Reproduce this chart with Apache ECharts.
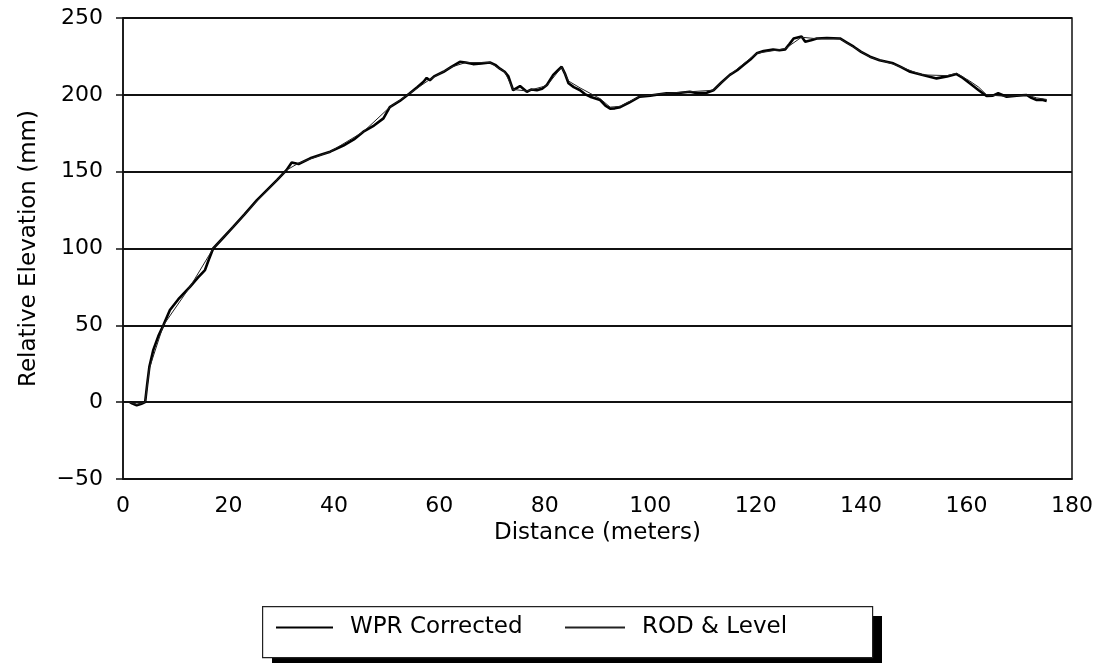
<!DOCTYPE html>
<html>
<head>
<meta charset="utf-8">
<script src="https://cdn.jsdelivr.net/npm/echarts@6/dist/echarts.min.js"></script>
<style>html,body{margin:0;padding:0;background:#fff}#c{width:1106px;height:663px}</style>
</head>
<body>
<div id="c"></div>
<script>
var seriesNames = ['WPR Corrected', 'ROD & Level'];
var xTitle = 'Distance (meters)';
var yTitle = 'Relative Elevation (mm)';

var wprDist = [1.3,1.7,2.6,3.5,4.2,4.6,5.0,5.75,6.7,7.65,8.9,10.5,12.7,14.2,15.55,16.3,17.1,19,20.9,23,25.4,27.3,29.2,31.0,32,33.3,35.5,37.5,39.3,41.8,43.8,45.6,47.6,49.4,50.6,52.5,54.4,55.8,57,57.6,58.2,59,60.8,62.2,63.9,65,66.4,68,69.6,70.6,71.5,72.4,73.1,73.6,74,75.3,76.6,77.5,78.5,79.5,80.4,81.6,82.5,83.2,83.8,84.5,85.5,86.7,87.6,88.6,90.5,91.5,92.4,93.3,94.3,96,98,100,103.1,105,107.5,109,110.7,112,113.5,115.1,116.5,117.7,119,120.2,121.5,123.3,124.5,125.6,126.4,127.2,128.7,129.4,130.5,131.6,133.5,136,137.3,138.6,140,141.7,143.5,146.1,147.6,149.3,151.5,154.3,156.3,158.1,159.3,160.6,162.3,163.8,165,166,167.6,169.5,171.4,172.3,173.3,174.3,175.2];
var wprElev = [0,-0.7,-2,-1,0,12,23,34,43,50,60,67,75,81,86,93,100,107,114,122,131.5,138,144.5,151,156,155,158.7,161,163,167,171,176,180,184.7,192,196,201,205,208.5,211,209.5,212,215,218,221.5,221,220,220.5,221,219.5,217,215,212,207,203,205.7,202,203.5,203,204,206.4,213,216,218.3,214,207.5,205,203,200.5,198.8,196.6,193,191,191.2,192,195,198.8,199.5,201,201,202,201,201.4,203,208,213,216,219.4,223,227,228.5,229.5,229,229.6,233,236.7,238,234.6,235.5,236.7,237,236.7,234,231.3,228,224.8,222.5,220.5,218,215,213,210.7,212,213.5,211,207.5,203,199.2,199.5,201,198.8,199.5,199.9,198,196.6,196.8,196];

var rodDist = [1.3,2.6,4.2,5.0,7.65,12.7,17.1,20.9,25.4,31.0,33.3,39.3,45.6,50.6,54.4,58.2,62.2,65,69.6,72.4,74,76.6,80.4,83.2,84.5,86.7,88.6,90.5,92.4,94.3,98,103.1,107.5,112,115.1,120.2,125.6,128.7,131.6,136,141.7,146.1,151.5,156.3,158.1,160.6,162.3,163.8,167.6,171.4,173.3,175.2];
var rodElev = [0,-1.5,0,22,50,75,100,114,131,151,155.5,163,176,192,201,210,218,221,221,215,203.5,202.5,206,218,209,204.5,201,197.5,192,192.5,199,201,202,203,213,227,230,237.5,236.5,236.5,224.5,220,213,212.5,214,209,205,200,199,200,198,197];

var wprData = wprDist.map(function (d, i) { return [d, wprElev[i]]; });
var rodData = rodDist.map(function (d, i) { return [d, rodElev[i]]; });

function minus(v) { return String(v).replace('-', '\u2212'); }

var FONT = 'DejaVu Sans';
var legendText = { fontFamily: FONT, fontSize: 23, color: '#000', padding: [0, 0, 0, 12] };
var chart = echarts.init(document.getElementById('c'));
chart.setOption({
  backgroundColor: '#fff',
  animation: false,
  textStyle: { fontFamily: FONT, color: '#000' },
  grid: { left: 123, right: 34, top: 18, bottom: 184, show: true, borderColor: '#111', borderWidth: 1.5 },
  graphic: [
    { type: 'rect', left: 272, top: 616, shape: { width: 610, height: 51 }, style: { fill: '#000' }, z: 1 },
    { type: 'rect', left: 262, top: 606, shape: { width: 610, height: 51 }, style: { fill: '#fff', stroke: '#222', lineWidth: 1.2 }, z: 2 }
  ],
  xAxis: {
    type: 'value', min: 0, max: 180, interval: 20,
    name: xTitle, nameLocation: 'middle', nameGap: 37,
    nameTextStyle: { fontFamily: FONT, fontSize: 23, color: '#000' },
    axisLine: { show: true, onZero: false, lineStyle: { color: '#111', width: 1.5 } },
    axisTick: { show: false },
    axisLabel: { fontFamily: FONT, fontSize: 22, color: '#000', margin: 16, formatter: minus },
    splitLine: { show: false }
  },
  yAxis: {
    type: 'value', min: -50, max: 250, interval: 50,
    name: yTitle, nameLocation: 'middle', nameGap: 82, nameRotate: 90,
    nameTextStyle: { fontFamily: FONT, fontSize: 23, color: '#000' },
    axisLine: { show: true, onZero: false, lineStyle: { color: '#111', width: 1.5 } },
    axisTick: { show: true, inside: false, length: 7, lineStyle: { color: '#111', width: 1.5 } },
    axisLabel: { fontFamily: FONT, fontSize: 22, color: '#000', margin: 20, formatter: minus },
    splitLine: { show: true, lineStyle: { color: '#111', width: 2 } }
  },
  legend: [
    {
      left: 272, top: 616, padding: [0, 4, 0, 4], z: 5,
      data: [{ name: seriesNames[0], icon: 'rect' }],
      itemWidth: 57, itemHeight: 2, textStyle: legendText, selectedMode: false
    },
    {
      left: 561, top: 616, padding: [0, 4, 0, 4], z: 5,
      data: [{ name: seriesNames[1], icon: 'rect' }],
      itemWidth: 60, itemHeight: 2, textStyle: legendText, selectedMode: false
    }
  ],
  series: [
    {
      name: seriesNames[0], type: 'line', data: wprData, showSymbol: false, symbol: 'none',
      lineStyle: { color: '#000', width: 2.6 }, itemStyle: { color: '#000' }, z: 3
    },
    {
      name: seriesNames[1], type: 'line', data: rodData, showSymbol: false, symbol: 'none',
      lineStyle: { color: '#222', width: 1 }, itemStyle: { color: '#222' }, z: 4
    }
  ]
});
</script>
</body>
</html>
